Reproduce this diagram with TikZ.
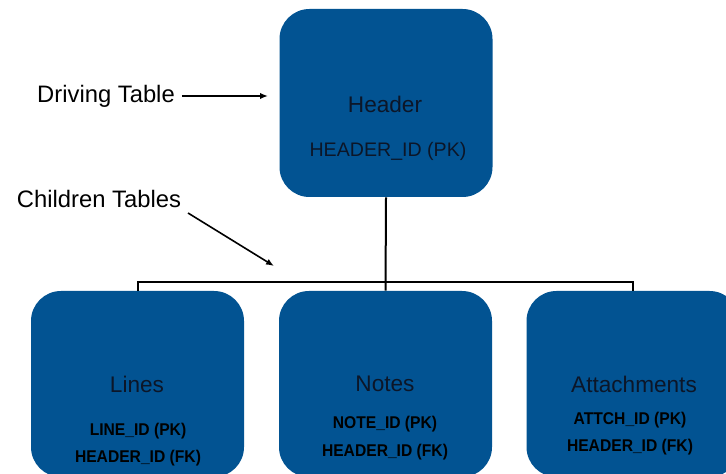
\documentclass[tikz,border=0pt]{standalone}
\usepackage{fontspec}
\setmainfont{Liberation Sans}
\newfontfamily\narrowfont[FakeStretch=0.92]{Liberation Sans}
\usetikzlibrary{arrows.meta}
\definecolor{tblue}{RGB}{2,83,146}
\definecolor{tink}{RGB}{12,22,40}
\begin{document}
\begin{tikzpicture}[
    x=0.5pt, y=-0.5pt,
    table/.style={rectangle, rounded corners=15pt, fill=tblue, minimum width=106.5pt, inner sep=0pt},
    title/.style={text=tink, font=\fontsize{11.3}{13}\selectfont},
    key/.style={text=tink, font=\fontsize{9.8}{12}\selectfont},
    fkey/.style={text=black, font=\narrowfont\fontsize{8.5}{10}\selectfont\bfseries},
    note/.style={font=\fontsize{11.9}{14}\selectfont},
    link/.style={line width=1pt},
    pointer/.style={line width=0.8pt, -{Latex[length=4pt,width=3.2pt]}}
]
\clip (0,0) rectangle (726,474);
\fill[white] (0,0) rectangle (726,474);

% Tables
\node[table, minimum height=94pt] (header) at (386,103) {};
\node[table, minimum height=93pt] (lines) at (137.5,384) {};
\node[table, minimum height=93pt] (notes) at (385.5,384) {};
\node[table, minimum height=93pt] (attach) at (633,384) {};

% Table texts
\node[title] at (385,104) {Header};
\node[key] at (388,151) {HEADER\_ID (PK)};
\node[title] at (137,384) {Lines};
\node[fkey] at (138,431) {LINE\_ID (PK)};
\node[fkey] at (138,458) {HEADER\_ID (FK)};
\node[title] at (385,384) {Notes};
\node[fkey] at (385,424) {NOTE\_ID (PK)};
\node[fkey] at (385,452) {HEADER\_ID (FK)};
\node[title] at (634,384) {Attachments};
\node[fkey] at (630,420) {ATTCH\_ID (PK)};
\node[fkey] at (630,447) {HEADER\_ID (FK)};

% Connectors
\coordinate (bus) at (386,282);
\draw[link] (header.south) -- (notes.north);
\draw[link] (lines.north) |- (bus) -| (attach.north);

% Notes
\node[note] (driving) at (106,96) {Driving Table};
\node[note] (children) at (99,199) {Children Tables};
\coordinate (drivetip) at (268,96);
\coordinate (childstart) at (188,213);
\coordinate (childtip) at (274,266);
\draw[pointer] (driving.east) -- (drivetip);
\draw[pointer] (childstart) -- (childtip);
\end{tikzpicture}
\end{document}
